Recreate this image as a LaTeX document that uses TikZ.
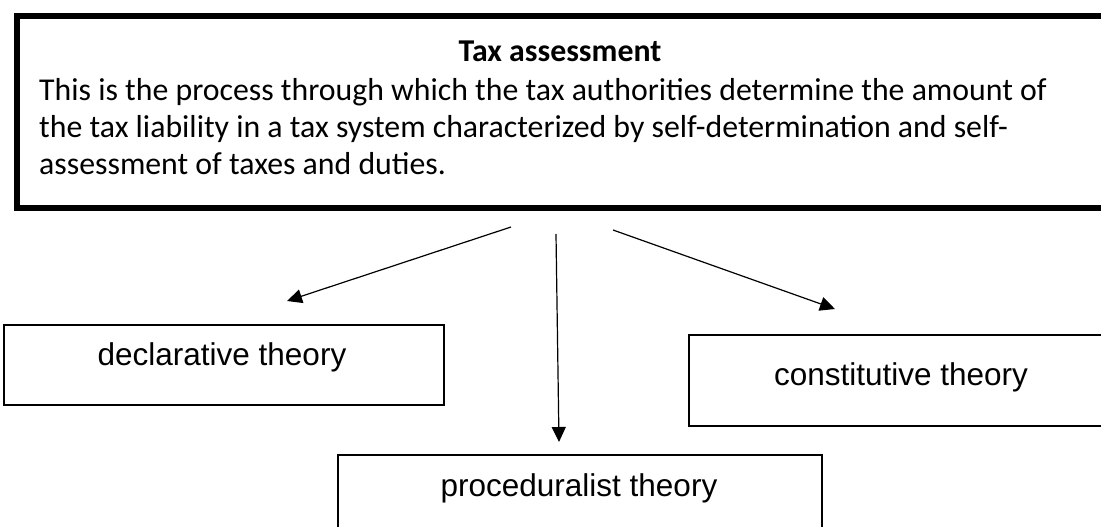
\documentclass[tikz,border=0pt]{standalone}
\usepackage{fontspec}
\setmainfont{Carlito}
\newfontfamily\boxfont{Liberation Sans}
\usetikzlibrary{arrows.meta}
\begin{document}
\begin{tikzpicture}[x=1pt,y=-1pt,
  bodytext/.style={inner sep=0pt,anchor=base west,font=\fontsize{31.8}{37}\selectfont},
  titletext/.style={inner sep=0pt,anchor=base,font=\fontsize{31.8}{37}\selectfont\bfseries},
  theorybox/.style={draw,line width=2pt,inner sep=0pt,anchor=north west},
  theorytext/.style={inner sep=0pt,anchor=base,font=\boxfont\fontsize{31.5}{37}\selectfont},
  link/.style={line width=1.2pt,-{Triangle[length=15pt,width=14pt]}}]
\useasboundingbox (0,0) rectangle (1101,527);
\clip (0,0) rectangle (1101,527);
\fill[white] (0,0) rectangle (1101,527);
% top box
\node[draw,line width=6pt,inner sep=0pt,anchor=north west,minimum width=1110pt,minimum height=192pt] (top) at (14,13) {};
\node[titletext] (title) at (560,62) {Tax assessment};
\node[bodytext] (body1) at (39,100) {This is the process through which the tax authorities determine the amount of};
\node[bodytext] (body2) at (39,137) {the tax liability in a tax system characterized by self-determination and self-};
\node[bodytext] (body3) at (39,174) {assessment of taxes and duties.};
% theory boxes
\node[theorybox,minimum width=440pt,minimum height=80pt] (decl) at (3,324) {};
\node[theorytext] (decltext) at (222,365) {declarative theory};
\node[theorybox,minimum width=430pt,minimum height=91pt] (const) at (688,334) {};
\node[theorytext] (consttext) at (901,385) {constitutive theory};
\node[theorybox,minimum width=484pt,minimum height=100pt] (proc) at (337,454) {};
\node[theorytext] (proctext) at (579,496) {proceduralist theory};
% connectors
\coordinate (s1) at (511,227);
\coordinate (e1) at (287,301);
\coordinate (s2) at (556,234);
\coordinate (e2) at (559,442);
\coordinate (s3) at (613,230);
\coordinate (e3) at (835,309);
\draw[link] (s1) -- (e1);
\draw[link] (s2) -- (e2);
\draw[link] (s3) -- (e3);
\end{tikzpicture}
\end{document}
